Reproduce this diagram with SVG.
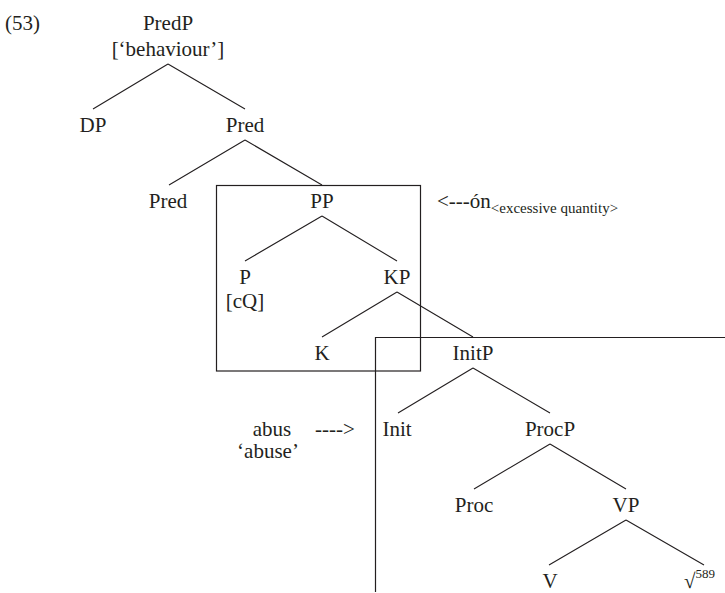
<svg xmlns="http://www.w3.org/2000/svg" width="725" height="593" viewBox="0 0 725 593">
  <style>
    .edge { stroke: #231f20; stroke-width: 1.1; fill: none; }
    .frame { stroke: #231f20; stroke-width: 1.2; fill: none; }
  </style>
  <rect width="725" height="593" fill="#ffffff"/>

  <!-- tree branches -->
  <g id="connectors">
    <path class="edge" d="M168,64 L93,109 M168,64 L245,109"/>
    <path class="edge" d="M245,140 L169,185 M245,140 L322,185"/>
    <path class="edge" d="M322,216 L245,261 M322,216 L397,261"/>
    <path class="edge" d="M397,292 L322,337 M397,292 L473,337"/>
    <path class="edge" d="M473,368 L398,413 M473,368 L550,413"/>
    <path class="edge" d="M550,444 L474,489 M550,444 L626,489"/>
    <path class="edge" d="M626,520 L549,565 M626,520 L704,565"/>
  </g>

  <!-- boxes around the PP and InitP domains -->
  <g id="frames">
    <rect class="frame" x="216.5" y="185.5" width="204" height="185.5"/>
    <path class="frame" d="M725,337.5 L375.5,337.5 L375.5,592"/>
  </g>

  <g id="labels" font-family="Liberation Serif" font-size="21" fill="#231f20">
    <text id="exnum" x="5" y="30">(53)</text>
    <g id="n-on"><text x="437" y="208">&lt;---ón<tspan font-size="15" dy="5">&lt;excessive quantity&gt;</tspan></text></g>
    <g id="n-arrow"><text x="315" y="436">----&gt;</text></g>
    <g id="n-root"><text x="684" y="588">√<tspan font-size="13" dy="-10">589</tspan></text></g>
    <g id="nodes" text-anchor="middle">
      <g id="n-predp"><text x="168" y="30">PredP</text><text x="168" y="56">[‘behaviour’]</text></g>
      <g id="n-dp"><text x="93" y="132">DP</text></g>
      <g id="n-pred1"><text x="245" y="132">Pred</text></g>
      <g id="n-pred2"><text x="168" y="208">Pred</text></g>
      <g id="n-pp"><text x="322" y="208">PP</text></g>
      <g id="n-p"><text x="245" y="284">P</text><text x="245" y="308">[cQ]</text></g>
      <g id="n-kp"><text x="397" y="284">KP</text></g>
      <g id="n-k"><text x="322" y="360">K</text></g>
      <g id="n-initp"><text x="473" y="360">InitP</text></g>
      <g id="n-abus"><text x="272" y="436">abus</text><text x="268" y="458">‘abuse’</text></g>
      <g id="n-init"><text x="397" y="436">Init</text></g>
      <g id="n-procp"><text x="550" y="436">ProcP</text></g>
      <g id="n-proc"><text x="474" y="512">Proc</text></g>
      <g id="n-vp"><text x="626" y="512">VP</text></g>
      <g id="n-v"><text x="550" y="588">V</text></g>
    </g>
  </g>
</svg>
